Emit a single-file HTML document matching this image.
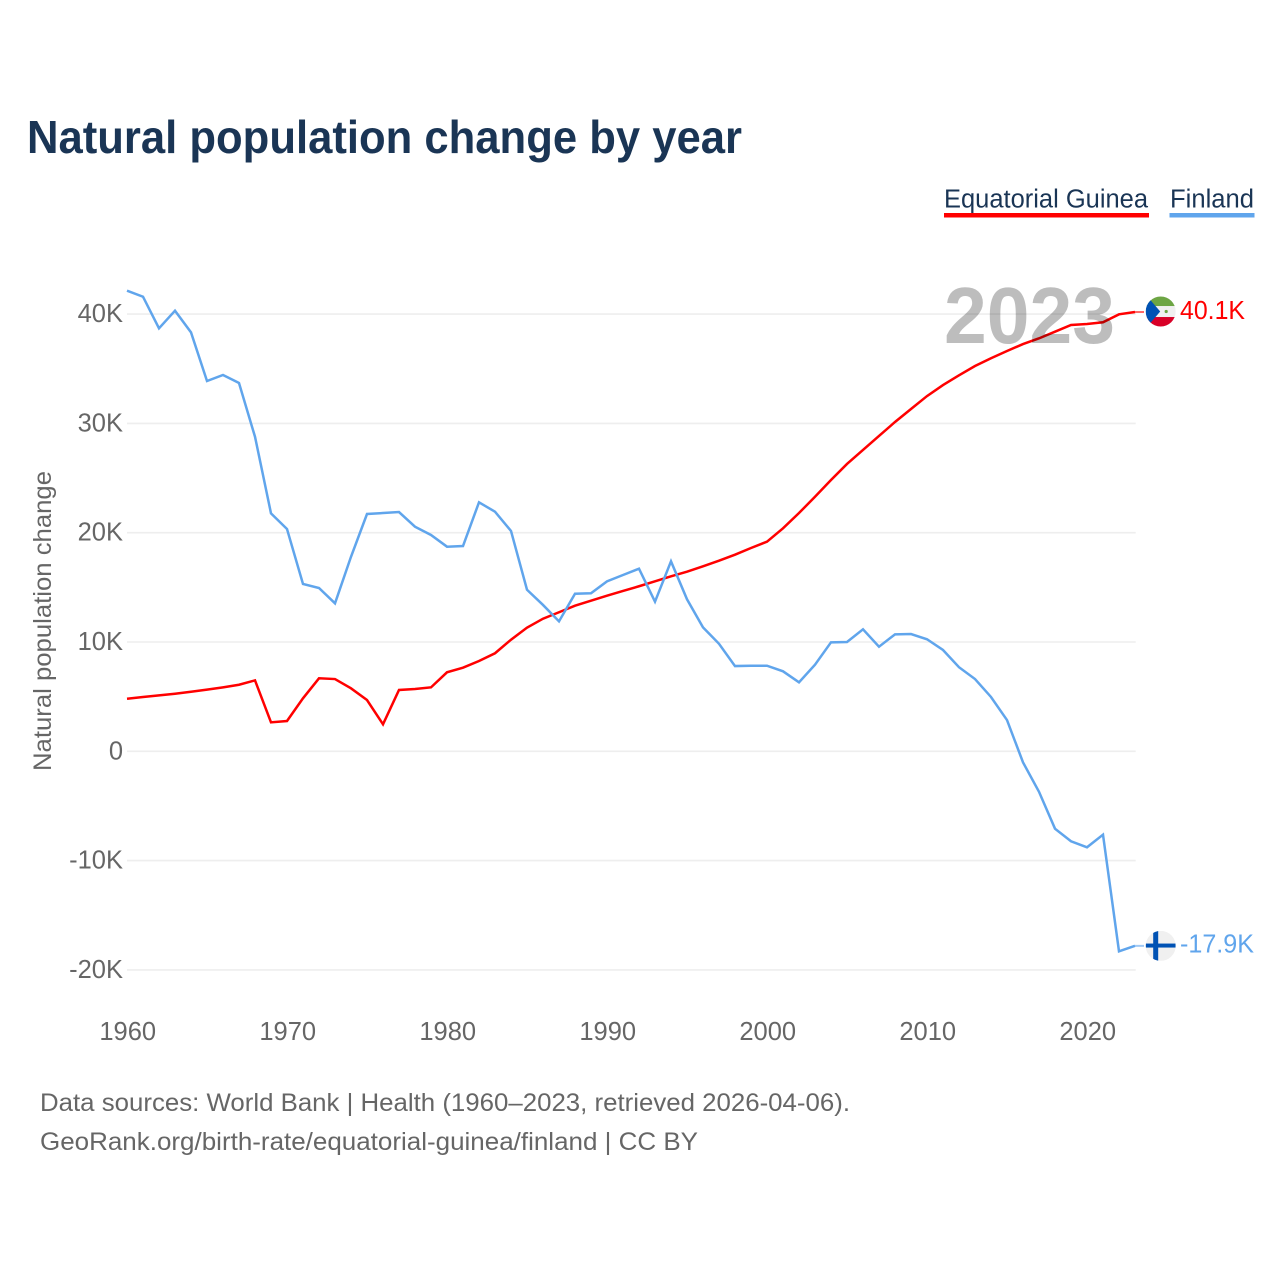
<!DOCTYPE html>
<html lang="en">
<head>
<meta charset="utf-8">
<title>Natural population change by year</title>
<style>
  html, body { margin: 0; padding: 0; background: #fff; }
  svg { display: block; font-family: "Liberation Sans", sans-serif; }
</style>
</head>
<body>
<svg id="chart" xmlns="http://www.w3.org/2000/svg" width="1280" height="1280" viewBox="0 0 1280 1280">
  <defs>
    <clipPath id="flag-clip"><circle cx="0" cy="0" r="15"></circle></clipPath>
  </defs>
  <rect width="1280" height="1280" fill="#ffffff"></rect>

  <text x="27" y="153" font-size="46" font-weight="700" fill="#1a3555" textLength="715" lengthAdjust="spacingAndGlyphs">Natural population change by year</text>

  <g>
    <text x="944" y="207.5" font-size="25.5" fill="#1a3555" textLength="204" lengthAdjust="spacingAndGlyphs">Equatorial Guinea</text>
    <rect x="944" y="213" width="205" height="4.5" fill="#ff0000"></rect>
  </g>
  <g>
    <text x="1170" y="207.5" font-size="25.5" fill="#1a3555" textLength="84" lengthAdjust="spacingAndGlyphs">Finland</text>
    <rect x="1169.5" y="213" width="85" height="4.5" fill="#60a5ec"></rect>
  </g>

  <text transform="translate(51 621) rotate(-90)" text-anchor="middle" font-size="25" fill="#666666" textLength="300" lengthAdjust="spacingAndGlyphs">Natural population change</text>

  <g id="grid"></g>
  <g id="y-ticks"></g>
  <g id="x-ticks"></g>
  <g id="series"></g>

  <text x="944" y="343" font-size="80" font-weight="700" fill="#000000" fill-opacity="0.26" textLength="171" lengthAdjust="spacingAndGlyphs">2023</text>

  <g id="flag-gq">
    <g clip-path="url(#flag-clip)">
      <rect x="-15" y="-15" width="30" height="30" fill="#f0f0f0"></rect>
      <rect x="-15" y="-15" width="30" height="9.5" fill="#6da544"></rect>
      <rect x="-15" y="5.5" width="30" height="10" fill="#d80027"></rect>
      <polygon points="-15,-17 -0.5,0 -15,17" fill="#0052b4"></polygon>
      <circle cx="5.5" cy="0" r="1.6" fill="#6da544"></circle>
    </g>
  </g>
  <g id="flag-fi">
    <g clip-path="url(#flag-clip)">
      <rect x="-15" y="-15" width="30" height="30" fill="#f0f0f0"></rect>
      <rect x="-7.5" y="-15" width="5" height="30" fill="#0052b4"></rect>
      <rect x="-15" y="-2.3" width="30" height="4" fill="#0052b4"></rect>
    </g>
  </g>
  <g id="end-labels"></g>

  <text x="40" y="1111" font-size="25" fill="#666666" textLength="810" lengthAdjust="spacingAndGlyphs">Data sources: World Bank | Health (1960–2023, retrieved 2026-04-06).</text>
  <text x="40" y="1150" font-size="25" fill="#666666" textLength="658" lengthAdjust="spacingAndGlyphs">GeoRank.org/birth-rate/equatorial-guinea/finland | CC BY</text>
</svg>
<script>
const firstYear = 1960;
const lastYear = 2023;
const xTickYears = [1960, 1970, 1980, 1990, 2000, 2010, 2020];
const yTickValues = [40, 30, 20, 10, 0, -10, -20];
const yTickLabels = ['40K', '30K', '20K', '10K', '0', '-10K', '-20K'];

const equatorialGuinea = [
  4.81, 4.97, 5.12, 5.27, 5.45, 5.64, 5.85, 6.09, 6.49, 2.65,
  2.77, 4.85, 6.68, 6.61, 5.76, 4.69, 2.47, 5.61, 5.70, 5.85,
  7.23, 7.65, 8.26, 8.97, 10.21, 11.31, 12.13, 12.72, 13.32, 13.78,
  14.24, 14.67, 15.10, 15.55, 16.01, 16.43, 16.93, 17.44, 17.99, 18.60,
  19.18, 20.40, 21.80, 23.29, 24.82, 26.29, 27.57, 28.85, 30.13, 31.32,
  32.50, 33.51, 34.40, 35.25, 35.96, 36.62, 37.26, 37.78, 38.39, 39.00,
  39.09, 39.25, 39.98, 40.19
];
const finland = [
  42.14, 41.59, 38.70, 40.31, 38.33, 33.88, 34.43, 33.70, 28.78, 21.77,
  20.34, 15.31, 14.94, 13.54, 17.80, 21.71, 21.80, 21.89, 20.55, 19.79,
  18.72, 18.78, 22.78, 21.92, 20.16, 14.78, 13.39, 11.89, 14.42, 14.46,
  15.55, 16.13, 16.71, 13.69, 17.38, 13.91, 11.34, 9.84, 7.80, 7.83,
  7.83, 7.32, 6.31, 7.92, 9.97, 10.00, 11.16, 9.57, 10.70, 10.73,
  10.25, 9.27, 7.69, 6.61, 4.97, 2.86, -1.01, -3.70, -7.08, -8.23,
  -8.78, -7.63, -18.30, -17.80
];
const equatorialGuineaLabel = '40.1K';
const finlandLabel = '-17.9K';

const SVG_NS = 'http://www.w3.org/2000/svg';
const plotLeft = 127;
const plotRight = 1135;
const zeroY = 751.3;
const pxPerThousand = 10.93;

function xScale(year) {
  return plotLeft + (year - firstYear) * (plotRight - plotLeft) / (lastYear - firstYear);
}
function yScale(value) {
  return zeroY - value * pxPerThousand;
}
function make(tag, attrs, parent) {
  const el = document.createElementNS(SVG_NS, tag);
  Object.keys(attrs).forEach(function (k) { el.setAttribute(k, attrs[k]); });
  parent.appendChild(el);
  return el;
}

const gridGroup = document.getElementById('grid');
const yTickGroup = document.getElementById('y-ticks');
yTickValues.forEach(function (v, i) {
  const line = make('line', { x1: plotLeft, x2: plotRight + 0.7, y1: yScale(v), y2: yScale(v), stroke: '#eeeeee', 'stroke-width': 1.6 }, gridGroup);
  
  
  const label = make('text', { x: 123, y: yScale(v) + 8, 'text-anchor': 'end', 'font-size': 25.5, fill: '#666666' }, yTickGroup);
  
  
  label.textContent = yTickLabels[i];
});

const xTickGroup = document.getElementById('x-ticks');
xTickYears.forEach(function (year) {
  const label = make('text', { x: xScale(year) + 0.7, y: 1040, 'text-anchor': 'middle', 'font-size': 25.5, fill: '#666666' }, xTickGroup);
  
  
  label.textContent = String(year);
});

const seriesGroup = document.getElementById('series');
function drawSeries(values, color, lineName, tailName) {
  const pts = values.map(function (v, i) {
    return xScale(firstYear + i).toFixed(2) + ',' + yScale(v).toFixed(2);
  }).join(' ');
  const path = make('polyline', { points: pts, fill: 'none', stroke: color, 'stroke-width': 2.5, 'stroke-linejoin': 'miter' }, seriesGroup);
  
  
  const endY = yScale(values[values.length - 1]);
  const tail = make('line', { x1: plotRight, x2: plotRight + 9, y1: endY, y2: endY, stroke: color, 'stroke-width': 2, 'stroke-opacity': 0.6 }, seriesGroup);
  
  
}
drawSeries(equatorialGuinea, '#ff0000', 'equatorial-guinea-line', 'equatorial-guinea-connector');
drawSeries(finland, '#60a5ec', 'finland-line', 'finland-connector');

const gqY = yScale(equatorialGuinea[equatorialGuinea.length - 1]);
const fiY = yScale(finland[finland.length - 1]);
document.getElementById('flag-gq').setAttribute('transform', 'translate(1160.7 ' + (gqY - 0.5) + ')');
document.getElementById('flag-fi').setAttribute('transform', 'translate(1160.7 ' + fiY + ')');

const endGroup = document.getElementById('end-labels');
const gqText = make('text', { x: 1180, y: gqY + 7, 'font-size': 26, fill: '#ff0000', textLength: 65, lengthAdjust: 'spacingAndGlyphs' }, endGroup);


gqText.textContent = equatorialGuineaLabel;
const fiText = make('text', { x: 1180, y: fiY + 6.5, 'font-size': 26, fill: '#60a5ec', textLength: 74, lengthAdjust: 'spacingAndGlyphs' }, endGroup);


fiText.textContent = finlandLabel;
</script>
</body>
</html>
